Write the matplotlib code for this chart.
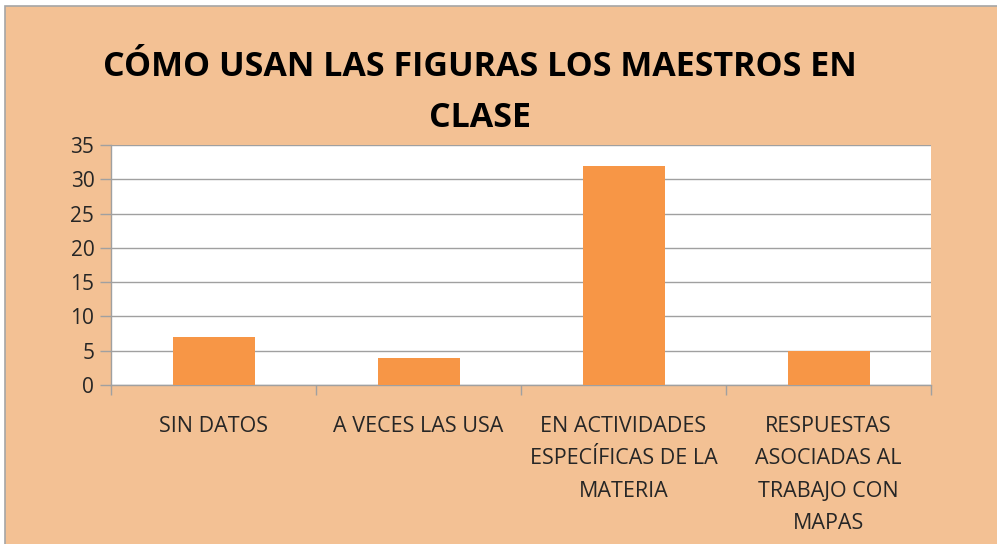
import matplotlib.pyplot as plt
import matplotlib.patches as patches

# Data
categories = ['SIN DATOS', 'A VECES LAS USA', 'EN ACTIVIDADES\nESPECÍFICAS DE LA\nMATERIA',
              'RESPUESTAS\nASOCIADAS AL\nTRABAJO CON\nMAPAS']
values = [7, 4, 32, 5]
yticks = [0, 5, 10, 15, 20, 25, 30, 35]

bg = '#F3C194'
bar_color = '#F79646'
text_color = '#262626'

W, H = 997, 544
fig = plt.figure(figsize=(W / 100, H / 100), dpi=100, facecolor='white')

# peach background with thin gray frame (only left/top visible)
fig.patches.append(patches.Rectangle((5 / W, -0.05), 1.1, 1.05 - 6 / H, transform=fig.transFigure,
                                     facecolor=bg, edgecolor='#A6A6A6', lw=1.2, zorder=-1))

ax = fig.add_axes([111 / W, 1 - 385 / H, (931 - 111) / W, (385 - 145) / H])
ax.set_facecolor('white')

x = range(len(categories))
ax.bar(x, values, width=0.4, color=bar_color, zorder=3)

ax.set_ylim(0, 35)
ax.set_xlim(-0.5, len(categories) - 0.5)
ax.set_yticks(yticks)
ax.set_yticklabels([str(v) for v in yticks], fontsize=15, color=text_color, family='Open Sans')
ax.yaxis.grid(True, color='#A0A0A0', lw=1, zorder=1)
ax.tick_params(axis='y', length=8, width=1, color='#A0A0A0', pad=4)

ax.set_xticks([i for i in x])
ax.set_xticklabels(categories, fontsize=15.5, color=text_color, family='Open Sans',
                   linespacing=1.72, va='top')
ax.tick_params(axis='x', which='major', length=0, pad=22)
ax.set_xticks([i - 0.5 for i in range(len(categories) + 1)], minor=True)
ax.tick_params(axis='x', which='minor', length=7, width=1, color='#A0A0A0')

for s in ['top', 'right']:
    ax.spines[s].set_visible(False)
for s in ['left', 'bottom']:
    ax.spines[s].set_color('#A0A0A0')
    ax.spines[s].set_linewidth(1)

fig.text(480 / W, 1 - 67 / H, 'CÓMO USAN LAS FIGURAS LOS MAESTROS EN', ha='center', va='center',
         fontsize=24.5, fontweight='bold', color='black', family='Open Sans')
fig.text(480 / W, 1 - 118 / H, 'CLASE', ha='center', va='center',
         fontsize=24.5, fontweight='bold', color='black', family='Open Sans')

fig.savefig('out.png', dpi=100, facecolor=fig.get_facecolor())
